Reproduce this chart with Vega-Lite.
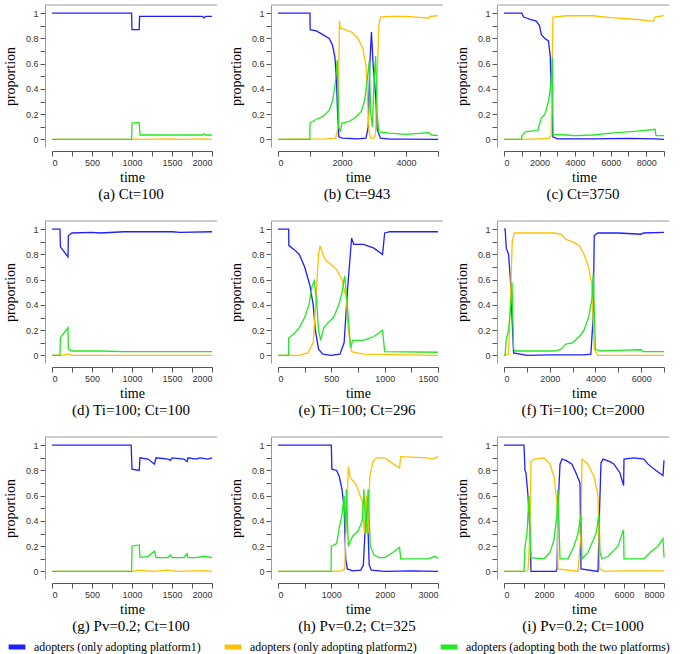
{
"$schema": "https://vega.github.io/schema/vega-lite/v6.json",
"background": "white",
"padding": {"left": 3, "top": 4, "right": 2, "bottom": 2},
"datasets": {
"a": [
{"s":"A","t":0,"v":1},{"s":"A","t":995,"v":1},{"s":"A","t":1000,"v":0.87},{"s":"A","t":1090,"v":0.87},{"s":"A","t":1095,"v":0.975},{"s":"A","t":1880,"v":0.975},{"s":"A","t":1900,"v":0.962},{"s":"A","t":1920,"v":0.975},{"s":"A","t":2000,"v":0.975},
{"s":"B","t":0,"v":0},{"s":"B","t":1000,"v":0},{"s":"B","t":1050,"v":0.005},{"s":"B","t":1100,"v":0},{"s":"B","t":1500,"v":0.004},{"s":"B","t":1600,"v":0},{"s":"B","t":1900,"v":0.004},{"s":"B","t":2000,"v":0},
{"s":"C","t":0,"v":0},{"s":"C","t":995,"v":0},{"s":"C","t":1000,"v":0.13},{"s":"C","t":1090,"v":0.135},{"s":"C","t":1100,"v":0.035},{"s":"C","t":1880,"v":0.035},{"s":"C","t":1900,"v":0.045},{"s":"C","t":1920,"v":0.035},{"s":"C","t":2000,"v":0.035}
],
"b": [
{"s":"A","t":0,"v":1},{"s":"A","t":1000,"v":1},{"s":"A","t":1005,"v":0.87},{"s":"A","t":1200,"v":0.86},{"s":"A","t":1400,"v":0.83},{"s":"A","t":1600,"v":0.8},{"s":"A","t":1700,"v":0.75},{"s":"A","t":1780,"v":0.65},{"s":"A","t":1830,"v":0.45},{"s":"A","t":1870,"v":0.15},{"s":"A","t":1900,"v":0.02},{"s":"A","t":2000,"v":0.01},{"s":"A","t":2500,"v":0.005},{"s":"A","t":2750,"v":0.01},{"s":"A","t":2820,"v":0.1},{"s":"A","t":2870,"v":0.6},{"s":"A","t":2920,"v":0.85},{"s":"A","t":2970,"v":0.6},{"s":"A","t":3050,"v":0.35},{"s":"A","t":3100,"v":0.08},{"s":"A","t":3200,"v":0.01},{"s":"A","t":3500,"v":0.003},{"s":"A","t":4000,"v":0.003},{"s":"A","t":5000,"v":0},
{"s":"B","t":0,"v":0},{"s":"B","t":1500,"v":0.005},{"s":"B","t":1800,"v":0.01},{"s":"B","t":1880,"v":0.1},{"s":"B","t":1920,"v":0.94},{"s":"B","t":1950,"v":0.88},{"s":"B","t":2100,"v":0.87},{"s":"B","t":2300,"v":0.85},{"s":"B","t":2500,"v":0.8},{"s":"B","t":2650,"v":0.72},{"s":"B","t":2750,"v":0.58},{"s":"B","t":2800,"v":0.3},{"s":"B","t":2850,"v":0.05},{"s":"B","t":2900,"v":0.01},{"s":"B","t":3000,"v":0.01},{"s":"B","t":3050,"v":0.05},{"s":"B","t":3100,"v":0.5},{"s":"B","t":3150,"v":0.9},{"s":"B","t":3200,"v":0.97},{"s":"B","t":3500,"v":0.975},{"s":"B","t":4000,"v":0.975},{"s":"B","t":4500,"v":0.965},{"s":"B","t":4700,"v":0.96},{"s":"B","t":4750,"v":0.975},{"s":"B","t":5000,"v":0.98},
{"s":"C","t":0,"v":0},{"s":"C","t":995,"v":0},{"s":"C","t":1000,"v":0.13},{"s":"C","t":1200,"v":0.16},{"s":"C","t":1400,"v":0.18},{"s":"C","t":1600,"v":0.23},{"s":"C","t":1700,"v":0.3},{"s":"C","t":1780,"v":0.42},{"s":"C","t":1850,"v":0.63},{"s":"C","t":1880,"v":0.35},{"s":"C","t":1900,"v":0.1},{"s":"C","t":1950,"v":0.06},{"s":"C","t":2000,"v":0.13},{"s":"C","t":2200,"v":0.14},{"s":"C","t":2400,"v":0.17},{"s":"C","t":2600,"v":0.22},{"s":"C","t":2700,"v":0.3},{"s":"C","t":2780,"v":0.45},{"s":"C","t":2850,"v":0.62},{"s":"C","t":2900,"v":0.2},{"s":"C","t":2950,"v":0.1},{"s":"C","t":3000,"v":0.45},{"s":"C","t":3050,"v":0.66},{"s":"C","t":3100,"v":0.2},{"s":"C","t":3150,"v":0.06},{"s":"C","t":3500,"v":0.05},{"s":"C","t":4000,"v":0.04},{"s":"C","t":4500,"v":0.05},{"s":"C","t":4700,"v":0.055},{"s":"C","t":4800,"v":0.035},{"s":"C","t":5000,"v":0.03}
],
"c": [
{"s":"A","t":0,"v":1},{"s":"A","t":1000,"v":1},{"s":"A","t":1100,"v":0.97},{"s":"A","t":1300,"v":0.96},{"s":"A","t":1500,"v":0.95},{"s":"A","t":1800,"v":0.94},{"s":"A","t":2000,"v":0.9},{"s":"A","t":2100,"v":0.83},{"s":"A","t":2300,"v":0.8},{"s":"A","t":2500,"v":0.78},{"s":"A","t":2600,"v":0.66},{"s":"A","t":2680,"v":0.3},{"s":"A","t":2750,"v":0.02},{"s":"A","t":3000,"v":0.005},{"s":"A","t":5000,"v":0.005},{"s":"A","t":7000,"v":0.008},{"s":"A","t":8500,"v":0.005},{"s":"A","t":9000,"v":0},
{"s":"B","t":0,"v":0},{"s":"B","t":1000,"v":0},{"s":"B","t":2000,"v":0.005},{"s":"B","t":2500,"v":0.008},{"s":"B","t":2650,"v":0.03},{"s":"B","t":2700,"v":0.5},{"s":"B","t":2750,"v":0.97},{"s":"B","t":3500,"v":0.98},{"s":"B","t":5000,"v":0.98},{"s":"B","t":6000,"v":0.965},{"s":"B","t":7500,"v":0.95},{"s":"B","t":8400,"v":0.935},{"s":"B","t":8500,"v":0.97},{"s":"B","t":9000,"v":0.98},
{"s":"C","t":0,"v":0},{"s":"C","t":995,"v":0},{"s":"C","t":1000,"v":0.03},{"s":"C","t":1200,"v":0.06},{"s":"C","t":1500,"v":0.065},{"s":"C","t":1900,"v":0.07},{"s":"C","t":2000,"v":0.12},{"s":"C","t":2100,"v":0.17},{"s":"C","t":2300,"v":0.2},{"s":"C","t":2500,"v":0.3},{"s":"C","t":2650,"v":0.45},{"s":"C","t":2720,"v":0.65},{"s":"C","t":2760,"v":0.04},{"s":"C","t":3500,"v":0.035},{"s":"C","t":4000,"v":0.03},{"s":"C","t":5000,"v":0.035},{"s":"C","t":6000,"v":0.05},{"s":"C","t":7500,"v":0.065},{"s":"C","t":8500,"v":0.08},{"s":"C","t":8550,"v":0.03},{"s":"C","t":9000,"v":0.03}
],
"d": [
{"s":"A","t":0,"v":1},{"s":"A","t":100,"v":1},{"s":"A","t":105,"v":0.86},{"s":"A","t":200,"v":0.78},{"s":"A","t":205,"v":0.95},{"s":"A","t":250,"v":0.97},{"s":"A","t":500,"v":0.975},{"s":"A","t":600,"v":0.97},{"s":"A","t":900,"v":0.98},{"s":"A","t":1500,"v":0.98},{"s":"A","t":1600,"v":0.975},{"s":"A","t":2000,"v":0.98},
{"s":"B","t":0,"v":0},{"s":"B","t":150,"v":0.005},{"s":"B","t":200,"v":0.012},{"s":"B","t":250,"v":0},{"s":"B","t":2000,"v":0},
{"s":"C","t":0,"v":0},{"s":"C","t":100,"v":0},{"s":"C","t":105,"v":0.14},{"s":"C","t":200,"v":0.22},{"s":"C","t":205,"v":0.05},{"s":"C","t":250,"v":0.035},{"s":"C","t":600,"v":0.035},{"s":"C","t":900,"v":0.03},{"s":"C","t":1600,"v":0.03},{"s":"C","t":2000,"v":0.03}
],
"e": [
{"s":"A","t":0,"v":1},{"s":"A","t":100,"v":1},{"s":"A","t":102,"v":0.87},{"s":"A","t":150,"v":0.84},{"s":"A","t":200,"v":0.8},{"s":"A","t":250,"v":0.7},{"s":"A","t":300,"v":0.55},{"s":"A","t":330,"v":0.4},{"s":"A","t":350,"v":0.2},{"s":"A","t":380,"v":0.05},{"s":"A","t":420,"v":0.01},{"s":"A","t":500,"v":0},{"s":"A","t":580,"v":0.01},{"s":"A","t":620,"v":0.1},{"s":"A","t":650,"v":0.5},{"s":"A","t":690,"v":0.93},{"s":"A","t":710,"v":0.88},{"s":"A","t":800,"v":0.88},{"s":"A","t":900,"v":0.85},{"s":"A","t":980,"v":0.8},{"s":"A","t":1000,"v":0.97},{"s":"A","t":1050,"v":0.98},{"s":"A","t":1500,"v":0.98},
{"s":"B","t":0,"v":0},{"s":"B","t":200,"v":0},{"s":"B","t":280,"v":0.02},{"s":"B","t":330,"v":0.1},{"s":"B","t":360,"v":0.5},{"s":"B","t":380,"v":0.8},{"s":"B","t":395,"v":0.87},{"s":"B","t":420,"v":0.8},{"s":"B","t":450,"v":0.75},{"s":"B","t":500,"v":0.72},{"s":"B","t":550,"v":0.68},{"s":"B","t":600,"v":0.6},{"s":"B","t":640,"v":0.45},{"s":"B","t":660,"v":0.2},{"s":"B","t":690,"v":0.03},{"s":"B","t":800,"v":0.01},{"s":"B","t":1500,"v":0},
{"s":"C","t":0,"v":0},{"s":"C","t":98,"v":0},{"s":"C","t":100,"v":0.14},{"s":"C","t":150,"v":0.17},{"s":"C","t":200,"v":0.22},{"s":"C","t":250,"v":0.3},{"s":"C","t":290,"v":0.4},{"s":"C","t":320,"v":0.55},{"s":"C","t":340,"v":0.59},{"s":"C","t":360,"v":0.45},{"s":"C","t":380,"v":0.2},{"s":"C","t":400,"v":0.12},{"s":"C","t":430,"v":0.22},{"s":"C","t":470,"v":0.26},{"s":"C","t":520,"v":0.3},{"s":"C","t":570,"v":0.4},{"s":"C","t":600,"v":0.5},{"s":"C","t":625,"v":0.63},{"s":"C","t":650,"v":0.4},{"s":"C","t":680,"v":0.06},{"s":"C","t":700,"v":0.12},{"s":"C","t":800,"v":0.12},{"s":"C","t":900,"v":0.15},{"s":"C","t":980,"v":0.2},{"s":"C","t":1000,"v":0.03},{"s":"C","t":1500,"v":0.025}
],
"f": [
{"s":"A","t":0,"v":1},{"s":"A","t":50,"v":1},{"s":"A","t":100,"v":0.85},{"s":"A","t":200,"v":0.8},{"s":"A","t":280,"v":0.6},{"s":"A","t":340,"v":0.35},{"s":"A","t":420,"v":0.02},{"s":"A","t":1000,"v":0},{"s":"A","t":2000,"v":0.005},{"s":"A","t":3500,"v":0.005},{"s":"A","t":3800,"v":0.01},{"s":"A","t":3900,"v":0.3},{"s":"A","t":3950,"v":0.95},{"s":"A","t":4100,"v":0.97},{"s":"A","t":5000,"v":0.97},{"s":"A","t":6000,"v":0.96},{"s":"A","t":6100,"v":0.97},{"s":"A","t":7000,"v":0.975},
{"s":"B","t":0,"v":0},{"s":"B","t":200,"v":0.01},{"s":"B","t":300,"v":0.55},{"s":"B","t":360,"v":0.9},{"s":"B","t":450,"v":0.97},{"s":"B","t":2200,"v":0.97},{"s":"B","t":2500,"v":0.96},{"s":"B","t":2700,"v":0.92},{"s":"B","t":3000,"v":0.9},{"s":"B","t":3300,"v":0.87},{"s":"B","t":3500,"v":0.8},{"s":"B","t":3700,"v":0.7},{"s":"B","t":3850,"v":0.55},{"s":"B","t":3950,"v":0.05},{"s":"B","t":4100,"v":0},{"s":"B","t":7000,"v":0},
{"s":"C","t":0,"v":0},{"s":"C","t":50,"v":0},{"s":"C","t":100,"v":0.13},{"s":"C","t":200,"v":0.2},{"s":"C","t":300,"v":0.4},{"s":"C","t":350,"v":0.58},{"s":"C","t":420,"v":0.05},{"s":"C","t":500,"v":0.035},{"s":"C","t":2200,"v":0.035},{"s":"C","t":2500,"v":0.05},{"s":"C","t":2700,"v":0.09},{"s":"C","t":3000,"v":0.1},{"s":"C","t":3300,"v":0.15},{"s":"C","t":3500,"v":0.2},{"s":"C","t":3700,"v":0.3},{"s":"C","t":3850,"v":0.45},{"s":"C","t":3900,"v":0.65},{"s":"C","t":4000,"v":0.05},{"s":"C","t":4200,"v":0.035},{"s":"C","t":5000,"v":0.04},{"s":"C","t":6000,"v":0.045},{"s":"C","t":6100,"v":0.03},{"s":"C","t":7000,"v":0.03}
],
"g": [
{"s":"A","t":0,"v":1},{"s":"A","t":990,"v":1},{"s":"A","t":1000,"v":0.81},{"s":"A","t":1090,"v":0.8},{"s":"A","t":1100,"v":0.9},{"s":"A","t":1200,"v":0.89},{"s":"A","t":1280,"v":0.85},{"s":"A","t":1300,"v":0.9},{"s":"A","t":1450,"v":0.89},{"s":"A","t":1480,"v":0.88},{"s":"A","t":1500,"v":0.9},{"s":"A","t":1650,"v":0.89},{"s":"A","t":1690,"v":0.87},{"s":"A","t":1700,"v":0.9},{"s":"A","t":1800,"v":0.89},{"s":"A","t":1850,"v":0.9},{"s":"A","t":1950,"v":0.89},{"s":"A","t":2000,"v":0.9},
{"s":"B","t":0,"v":0},{"s":"B","t":1000,"v":0},{"s":"B","t":1100,"v":0.01},{"s":"B","t":1250,"v":0},{"s":"B","t":1450,"v":0.01},{"s":"B","t":1550,"v":0},{"s":"B","t":1900,"v":0.006},{"s":"B","t":2000,"v":0},
{"s":"C","t":0,"v":0},{"s":"C","t":995,"v":0},{"s":"C","t":1000,"v":0.2},{"s":"C","t":1090,"v":0.21},{"s":"C","t":1100,"v":0.11},{"s":"C","t":1200,"v":0.12},{"s":"C","t":1280,"v":0.16},{"s":"C","t":1300,"v":0.11},{"s":"C","t":1450,"v":0.11},{"s":"C","t":1480,"v":0.13},{"s":"C","t":1500,"v":0.11},{"s":"C","t":1650,"v":0.11},{"s":"C","t":1690,"v":0.14},{"s":"C","t":1700,"v":0.11},{"s":"C","t":1800,"v":0.11},{"s":"C","t":1900,"v":0.12},{"s":"C","t":2000,"v":0.11}
],
"h": [
{"s":"A","t":0,"v":1},{"s":"A","t":1000,"v":1},{"s":"A","t":1010,"v":0.81},{"s":"A","t":1100,"v":0.8},{"s":"A","t":1150,"v":0.75},{"s":"A","t":1200,"v":0.65},{"s":"A","t":1240,"v":0.5},{"s":"A","t":1270,"v":0.1},{"s":"A","t":1300,"v":0.02},{"s":"A","t":1400,"v":0.005},{"s":"A","t":1550,"v":0.01},{"s":"A","t":1600,"v":0.05},{"s":"A","t":1630,"v":0.3},{"s":"A","t":1660,"v":0.57},{"s":"A","t":1690,"v":0.3},{"s":"A","t":1710,"v":0.05},{"s":"A","t":1750,"v":0.01},{"s":"A","t":2000,"v":0},{"s":"A","t":2500,"v":0.005},{"s":"A","t":3000,"v":0},
{"s":"B","t":0,"v":0},{"s":"B","t":1000,"v":0},{"s":"B","t":1200,"v":0.005},{"s":"B","t":1250,"v":0.02},{"s":"B","t":1280,"v":0.4},{"s":"B","t":1320,"v":0.83},{"s":"B","t":1350,"v":0.75},{"s":"B","t":1400,"v":0.72},{"s":"B","t":1450,"v":0.7},{"s":"B","t":1500,"v":0.65},{"s":"B","t":1580,"v":0.55},{"s":"B","t":1620,"v":0.3},{"s":"B","t":1660,"v":0.6},{"s":"B","t":1690,"v":0.3},{"s":"B","t":1720,"v":0.75},{"s":"B","t":1780,"v":0.87},{"s":"B","t":1850,"v":0.9},{"s":"B","t":2000,"v":0.9},{"s":"B","t":2100,"v":0.87},{"s":"B","t":2200,"v":0.84},{"s":"B","t":2280,"v":0.82},{"s":"B","t":2300,"v":0.91},{"s":"B","t":2800,"v":0.9},{"s":"B","t":2900,"v":0.89},{"s":"B","t":3000,"v":0.91},
{"s":"C","t":0,"v":0},{"s":"C","t":995,"v":0},{"s":"C","t":1000,"v":0.2},{"s":"C","t":1100,"v":0.22},{"s":"C","t":1150,"v":0.35},{"s":"C","t":1200,"v":0.45},{"s":"C","t":1240,"v":0.6},{"s":"C","t":1270,"v":0.3},{"s":"C","t":1280,"v":0.65},{"s":"C","t":1320,"v":0.2},{"s":"C","t":1400,"v":0.28},{"s":"C","t":1500,"v":0.32},{"s":"C","t":1580,"v":0.4},{"s":"C","t":1610,"v":0.65},{"s":"C","t":1650,"v":0.3},{"s":"C","t":1690,"v":0.65},{"s":"C","t":1730,"v":0.2},{"s":"C","t":1800,"v":0.13},{"s":"C","t":1900,"v":0.11},{"s":"C","t":2000,"v":0.11},{"s":"C","t":2150,"v":0.15},{"s":"C","t":2280,"v":0.19},{"s":"C","t":2300,"v":0.1},{"s":"C","t":2800,"v":0.1},{"s":"C","t":2950,"v":0.12},{"s":"C","t":3000,"v":0.1}
],
"i": [
{"s":"A","t":0,"v":1},{"s":"A","t":1000,"v":1},{"s":"A","t":1050,"v":0.8},{"s":"A","t":1100,"v":0.78},{"s":"A","t":1200,"v":0.6},{"s":"A","t":1300,"v":0.3},{"s":"A","t":1350,"v":0},{"s":"A","t":2600,"v":0},{"s":"A","t":2650,"v":0.02},{"s":"A","t":2700,"v":0.5},{"s":"A","t":2800,"v":0.85},{"s":"A","t":2900,"v":0.89},{"s":"A","t":3100,"v":0.88},{"s":"A","t":3400,"v":0.85},{"s":"A","t":3600,"v":0.78},{"s":"A","t":3800,"v":0.7},{"s":"A","t":3850,"v":0.02},{"s":"A","t":4700,"v":0},{"s":"A","t":4780,"v":0.5},{"s":"A","t":4850,"v":0.86},{"s":"A","t":4950,"v":0.89},{"s":"A","t":5300,"v":0.87},{"s":"A","t":5500,"v":0.85},{"s":"A","t":5800,"v":0.78},{"s":"A","t":5980,"v":0.68},{"s":"A","t":6000,"v":0.89},{"s":"A","t":6500,"v":0.9},{"s":"A","t":7000,"v":0.89},{"s":"A","t":7200,"v":0.85},{"s":"A","t":7600,"v":0.8},{"s":"A","t":7950,"v":0.76},{"s":"A","t":8000,"v":0.88},
{"s":"B","t":0,"v":0},{"s":"B","t":1000,"v":0},{"s":"B","t":1200,"v":0.005},{"s":"B","t":1300,"v":0.3},{"s":"B","t":1350,"v":0.87},{"s":"B","t":1500,"v":0.89},{"s":"B","t":2000,"v":0.9},{"s":"B","t":2300,"v":0.85},{"s":"B","t":2500,"v":0.75},{"s":"B","t":2650,"v":0.55},{"s":"B","t":2700,"v":0.02},{"s":"B","t":3700,"v":0},{"s":"B","t":3850,"v":0.3},{"s":"B","t":3900,"v":0.89},{"s":"B","t":4200,"v":0.85},{"s":"B","t":4500,"v":0.75},{"s":"B","t":4700,"v":0.6},{"s":"B","t":4780,"v":0.02},{"s":"B","t":5000,"v":0},{"s":"B","t":6000,"v":0.005},{"s":"B","t":8000,"v":0.005},
{"s":"C","t":0,"v":0},{"s":"C","t":1000,"v":0},{"s":"C","t":1050,"v":0.2},{"s":"C","t":1150,"v":0.3},{"s":"C","t":1250,"v":0.6},{"s":"C","t":1350,"v":0.11},{"s":"C","t":2000,"v":0.1},{"s":"C","t":2300,"v":0.15},{"s":"C","t":2500,"v":0.25},{"s":"C","t":2650,"v":0.45},{"s":"C","t":2700,"v":0.65},{"s":"C","t":2800,"v":0.1},{"s":"C","t":3200,"v":0.1},{"s":"C","t":3500,"v":0.2},{"s":"C","t":3700,"v":0.3},{"s":"C","t":3850,"v":0.45},{"s":"C","t":3900,"v":0.1},{"s":"C","t":4200,"v":0.15},{"s":"C","t":4600,"v":0.3},{"s":"C","t":4750,"v":0.45},{"s":"C","t":4800,"v":0.15},{"s":"C","t":4900,"v":0.1},{"s":"C","t":5200,"v":0.12},{"s":"C","t":5700,"v":0.2},{"s":"C","t":5980,"v":0.33},{"s":"C","t":6000,"v":0.1},{"s":"C","t":7000,"v":0.1},{"s":"C","t":7300,"v":0.15},{"s":"C","t":7700,"v":0.2},{"s":"C","t":7950,"v":0.26},{"s":"C","t":8000,"v":0.11}
]
},
"spacing": 18,
"vconcat": [
{"hconcat": [
{"width":172,"height":142,"title":"(a) Ct=100","layer":[
 {"data":{"values":[{}]},"mark":{"type":"rule","color":"#9a9a9a","strokeWidth":1},"encoding":{"y":{"datum":1.065,"type":"quantitative","scale":{"domain":[-0.06,1.065],"nice":false,"zero":false},"axis":{"title":"proportion","labelOverlap":false,"values":[0,0.1,0.2,0.3,0.4,0.5,0.6,0.7,0.8,0.9,1],"labelExpr":"round(datum.value*10)%2==0?format(datum.value,'~g'):''"}}}},
 {"data":{"name":"a"},"mark":{"type":"line","strokeWidth":1.3},"encoding":{
  "x":{"field":"t","type":"quantitative","scale":{"domain":[0,2000],"range":[7,167],"nice":false,"zero":false},"axis":{"title":"time","format":"d","labelOverlap":false,"values":[0,250,500,750,1000,1250,1500,1750,2000],"labelExpr":"datum.value%500==0?datum.label:''"}},
  "y":{"field":"v","type":"quantitative","scale":{"domain":[-0.06,1.065],"nice":false,"zero":false},"axis":{"title":"proportion","labelOverlap":false,"values":[0,0.1,0.2,0.3,0.4,0.5,0.6,0.7,0.8,0.9,1],"labelExpr":"round(datum.value*10)%2==0?format(datum.value,'~g'):''"}},
  "color":{"field":"s","type":"nominal","scale":{"domain":["A","B","C"],"range":["#1f1fff","#ffc000","#22e822"]},"legend":{"labelExpr":"datum.label=='A'?'adopters (only adopting platform1)':datum.label=='B'?'adopters (only adopting platform2)':'adopters (adopting both the two platforms)'"}}}}
]},
{"width":172,"height":142,"title":"(b) Ct=943","layer":[
 {"data":{"values":[{}]},"mark":{"type":"rule","color":"#9a9a9a","strokeWidth":1},"encoding":{"y":{"datum":1.065,"type":"quantitative","scale":{"domain":[-0.06,1.065],"nice":false,"zero":false},"axis":{"title":"proportion","labelOverlap":false,"values":[0,0.1,0.2,0.3,0.4,0.5,0.6,0.7,0.8,0.9,1],"labelExpr":"round(datum.value*10)%2==0?format(datum.value,'~g'):''"}}}},
 {"data":{"name":"b"},"mark":{"type":"line","strokeWidth":1.3},"encoding":{
  "x":{"field":"t","type":"quantitative","scale":{"domain":[0,5000],"range":[7,167],"nice":false,"zero":false},"axis":{"title":"time","format":"d","labelOverlap":false,"values":[0,1000,2000,3000,4000,5000],"labelExpr":"datum.value%2000==0?datum.label:''"}},
  "y":{"field":"v","type":"quantitative","scale":{"domain":[-0.06,1.065],"nice":false,"zero":false},"axis":{"title":"proportion","labelOverlap":false,"values":[0,0.1,0.2,0.3,0.4,0.5,0.6,0.7,0.8,0.9,1],"labelExpr":"round(datum.value*10)%2==0?format(datum.value,'~g'):''"}},
  "color":{"field":"s","type":"nominal","scale":{"domain":["A","B","C"],"range":["#1f1fff","#ffc000","#22e822"]},"legend":{"labelExpr":"datum.label=='A'?'adopters (only adopting platform1)':datum.label=='B'?'adopters (only adopting platform2)':'adopters (adopting both the two platforms)'"}}}}
]},
{"width":172,"height":142,"title":"(c) Ct=3750","layer":[
 {"data":{"values":[{}]},"mark":{"type":"rule","color":"#9a9a9a","strokeWidth":1},"encoding":{"y":{"datum":1.065,"type":"quantitative","scale":{"domain":[-0.06,1.065],"nice":false,"zero":false},"axis":{"title":"proportion","labelOverlap":false,"values":[0,0.1,0.2,0.3,0.4,0.5,0.6,0.7,0.8,0.9,1],"labelExpr":"round(datum.value*10)%2==0?format(datum.value,'~g'):''"}}}},
 {"data":{"name":"c"},"mark":{"type":"line","strokeWidth":1.3},"encoding":{
  "x":{"field":"t","type":"quantitative","scale":{"domain":[0,9000],"range":[7,167],"nice":false,"zero":false},"axis":{"title":"time","format":"d","labelOverlap":false,"values":[0,1000,2000,3000,4000,5000,6000,7000,8000,9000],"labelExpr":"datum.value%2000==0?datum.label:''"}},
  "y":{"field":"v","type":"quantitative","scale":{"domain":[-0.06,1.065],"nice":false,"zero":false},"axis":{"title":"proportion","labelOverlap":false,"values":[0,0.1,0.2,0.3,0.4,0.5,0.6,0.7,0.8,0.9,1],"labelExpr":"round(datum.value*10)%2==0?format(datum.value,'~g'):''"}},
  "color":{"field":"s","type":"nominal","scale":{"domain":["A","B","C"],"range":["#1f1fff","#ffc000","#22e822"]},"legend":{"labelExpr":"datum.label=='A'?'adopters (only adopting platform1)':datum.label=='B'?'adopters (only adopting platform2)':'adopters (adopting both the two platforms)'"}}}}
]}
], "spacing": 54, "bounds": "flush"},
{"hconcat": [
{"width":172,"height":142,"title":"(d) Ti=100; Ct=100","layer":[
 {"data":{"values":[{}]},"mark":{"type":"rule","color":"#9a9a9a","strokeWidth":1},"encoding":{"y":{"datum":1.065,"type":"quantitative","scale":{"domain":[-0.06,1.065],"nice":false,"zero":false},"axis":{"title":"proportion","labelOverlap":false,"values":[0,0.1,0.2,0.3,0.4,0.5,0.6,0.7,0.8,0.9,1],"labelExpr":"round(datum.value*10)%2==0?format(datum.value,'~g'):''"}}}},
 {"data":{"name":"d"},"mark":{"type":"line","strokeWidth":1.3},"encoding":{
  "x":{"field":"t","type":"quantitative","scale":{"domain":[0,2000],"range":[7,167],"nice":false,"zero":false},"axis":{"title":"time","format":"d","labelOverlap":false,"values":[0,250,500,750,1000,1250,1500,1750,2000],"labelExpr":"datum.value%500==0?datum.label:''"}},
  "y":{"field":"v","type":"quantitative","scale":{"domain":[-0.06,1.065],"nice":false,"zero":false},"axis":{"title":"proportion","labelOverlap":false,"values":[0,0.1,0.2,0.3,0.4,0.5,0.6,0.7,0.8,0.9,1],"labelExpr":"round(datum.value*10)%2==0?format(datum.value,'~g'):''"}},
  "color":{"field":"s","type":"nominal","scale":{"domain":["A","B","C"],"range":["#1f1fff","#ffc000","#22e822"]},"legend":{"labelExpr":"datum.label=='A'?'adopters (only adopting platform1)':datum.label=='B'?'adopters (only adopting platform2)':'adopters (adopting both the two platforms)'"}}}}
]},
{"width":172,"height":142,"title":"(e) Ti=100; Ct=296","layer":[
 {"data":{"values":[{}]},"mark":{"type":"rule","color":"#9a9a9a","strokeWidth":1},"encoding":{"y":{"datum":1.065,"type":"quantitative","scale":{"domain":[-0.06,1.065],"nice":false,"zero":false},"axis":{"title":"proportion","labelOverlap":false,"values":[0,0.1,0.2,0.3,0.4,0.5,0.6,0.7,0.8,0.9,1],"labelExpr":"round(datum.value*10)%2==0?format(datum.value,'~g'):''"}}}},
 {"data":{"name":"e"},"mark":{"type":"line","strokeWidth":1.3},"encoding":{
  "x":{"field":"t","type":"quantitative","scale":{"domain":[0,1500],"range":[7,167],"nice":false,"zero":false},"axis":{"title":"time","format":"d","labelOverlap":false,"values":[0,250,500,750,1000,1250,1500],"labelExpr":"datum.value%500==0?datum.label:''"}},
  "y":{"field":"v","type":"quantitative","scale":{"domain":[-0.06,1.065],"nice":false,"zero":false},"axis":{"title":"proportion","labelOverlap":false,"values":[0,0.1,0.2,0.3,0.4,0.5,0.6,0.7,0.8,0.9,1],"labelExpr":"round(datum.value*10)%2==0?format(datum.value,'~g'):''"}},
  "color":{"field":"s","type":"nominal","scale":{"domain":["A","B","C"],"range":["#1f1fff","#ffc000","#22e822"]},"legend":{"labelExpr":"datum.label=='A'?'adopters (only adopting platform1)':datum.label=='B'?'adopters (only adopting platform2)':'adopters (adopting both the two platforms)'"}}}}
]},
{"width":172,"height":142,"title":"(f) Ti=100; Ct=2000","layer":[
 {"data":{"values":[{}]},"mark":{"type":"rule","color":"#9a9a9a","strokeWidth":1},"encoding":{"y":{"datum":1.065,"type":"quantitative","scale":{"domain":[-0.06,1.065],"nice":false,"zero":false},"axis":{"title":"proportion","labelOverlap":false,"values":[0,0.1,0.2,0.3,0.4,0.5,0.6,0.7,0.8,0.9,1],"labelExpr":"round(datum.value*10)%2==0?format(datum.value,'~g'):''"}}}},
 {"data":{"name":"f"},"mark":{"type":"line","strokeWidth":1.3},"encoding":{
  "x":{"field":"t","type":"quantitative","scale":{"domain":[0,7000],"range":[7,167],"nice":false,"zero":false},"axis":{"title":"time","format":"d","labelOverlap":false,"values":[0,1000,2000,3000,4000,5000,6000,7000],"labelExpr":"datum.value%2000==0?datum.label:''"}},
  "y":{"field":"v","type":"quantitative","scale":{"domain":[-0.06,1.065],"nice":false,"zero":false},"axis":{"title":"proportion","labelOverlap":false,"values":[0,0.1,0.2,0.3,0.4,0.5,0.6,0.7,0.8,0.9,1],"labelExpr":"round(datum.value*10)%2==0?format(datum.value,'~g'):''"}},
  "color":{"field":"s","type":"nominal","scale":{"domain":["A","B","C"],"range":["#1f1fff","#ffc000","#22e822"]},"legend":{"labelExpr":"datum.label=='A'?'adopters (only adopting platform1)':datum.label=='B'?'adopters (only adopting platform2)':'adopters (adopting both the two platforms)'"}}}}
]}
], "spacing": 54, "bounds": "flush"},
{"hconcat": [
{"width":172,"height":142,"title":"(g) Pv=0.2; Ct=100","layer":[
 {"data":{"values":[{}]},"mark":{"type":"rule","color":"#9a9a9a","strokeWidth":1},"encoding":{"y":{"datum":1.065,"type":"quantitative","scale":{"domain":[-0.06,1.065],"nice":false,"zero":false},"axis":{"title":"proportion","labelOverlap":false,"values":[0,0.1,0.2,0.3,0.4,0.5,0.6,0.7,0.8,0.9,1],"labelExpr":"round(datum.value*10)%2==0?format(datum.value,'~g'):''"}}}},
 {"data":{"name":"g"},"mark":{"type":"line","strokeWidth":1.3},"encoding":{
  "x":{"field":"t","type":"quantitative","scale":{"domain":[0,2000],"range":[7,167],"nice":false,"zero":false},"axis":{"title":"time","format":"d","labelOverlap":false,"values":[0,250,500,750,1000,1250,1500,1750,2000],"labelExpr":"datum.value%500==0?datum.label:''"}},
  "y":{"field":"v","type":"quantitative","scale":{"domain":[-0.06,1.065],"nice":false,"zero":false},"axis":{"title":"proportion","labelOverlap":false,"values":[0,0.1,0.2,0.3,0.4,0.5,0.6,0.7,0.8,0.9,1],"labelExpr":"round(datum.value*10)%2==0?format(datum.value,'~g'):''"}},
  "color":{"field":"s","type":"nominal","scale":{"domain":["A","B","C"],"range":["#1f1fff","#ffc000","#22e822"]},"legend":{"labelExpr":"datum.label=='A'?'adopters (only adopting platform1)':datum.label=='B'?'adopters (only adopting platform2)':'adopters (adopting both the two platforms)'"}}}}
]},
{"width":172,"height":142,"title":"(h) Pv=0.2; Ct=325","layer":[
 {"data":{"values":[{}]},"mark":{"type":"rule","color":"#9a9a9a","strokeWidth":1},"encoding":{"y":{"datum":1.065,"type":"quantitative","scale":{"domain":[-0.06,1.065],"nice":false,"zero":false},"axis":{"title":"proportion","labelOverlap":false,"values":[0,0.1,0.2,0.3,0.4,0.5,0.6,0.7,0.8,0.9,1],"labelExpr":"round(datum.value*10)%2==0?format(datum.value,'~g'):''"}}}},
 {"data":{"name":"h"},"mark":{"type":"line","strokeWidth":1.3},"encoding":{
  "x":{"field":"t","type":"quantitative","scale":{"domain":[0,3000],"range":[7,167],"nice":false,"zero":false},"axis":{"title":"time","format":"d","labelOverlap":false,"values":[0,500,1000,1500,2000,2500,3000],"labelExpr":"datum.value%1000==0?datum.label:''"}},
  "y":{"field":"v","type":"quantitative","scale":{"domain":[-0.06,1.065],"nice":false,"zero":false},"axis":{"title":"proportion","labelOverlap":false,"values":[0,0.1,0.2,0.3,0.4,0.5,0.6,0.7,0.8,0.9,1],"labelExpr":"round(datum.value*10)%2==0?format(datum.value,'~g'):''"}},
  "color":{"field":"s","type":"nominal","scale":{"domain":["A","B","C"],"range":["#1f1fff","#ffc000","#22e822"]},"legend":{"labelExpr":"datum.label=='A'?'adopters (only adopting platform1)':datum.label=='B'?'adopters (only adopting platform2)':'adopters (adopting both the two platforms)'"}}}}
]},
{"width":172,"height":142,"title":"(i) Pv=0.2; Ct=1000","layer":[
 {"data":{"values":[{}]},"mark":{"type":"rule","color":"#9a9a9a","strokeWidth":1},"encoding":{"y":{"datum":1.065,"type":"quantitative","scale":{"domain":[-0.06,1.065],"nice":false,"zero":false},"axis":{"title":"proportion","labelOverlap":false,"values":[0,0.1,0.2,0.3,0.4,0.5,0.6,0.7,0.8,0.9,1],"labelExpr":"round(datum.value*10)%2==0?format(datum.value,'~g'):''"}}}},
 {"data":{"name":"i"},"mark":{"type":"line","strokeWidth":1.3},"encoding":{
  "x":{"field":"t","type":"quantitative","scale":{"domain":[0,8000],"range":[7,167],"nice":false,"zero":false},"axis":{"title":"time","format":"d","labelOverlap":false,"values":[0,1000,2000,3000,4000,5000,6000,7000,8000],"labelExpr":"datum.value%2000==0?datum.label:''"}},
  "y":{"field":"v","type":"quantitative","scale":{"domain":[-0.06,1.065],"nice":false,"zero":false},"axis":{"title":"proportion","labelOverlap":false,"values":[0,0.1,0.2,0.3,0.4,0.5,0.6,0.7,0.8,0.9,1],"labelExpr":"round(datum.value*10)%2==0?format(datum.value,'~g'):''"}},
  "color":{"field":"s","type":"nominal","scale":{"domain":["A","B","C"],"range":["#1f1fff","#ffc000","#22e822"]},"legend":{"labelExpr":"datum.label=='A'?'adopters (only adopting platform1)':datum.label=='B'?'adopters (only adopting platform2)':'adopters (adopting both the two platforms)'"}}}}
]}
], "spacing": 54, "bounds": "flush"}
],
"config": {
 "view": {"stroke": null},
 "font": "Liberation Serif",
 "axis": {"grid": false, "labelOverlap": false, "labelFont": "Liberation Sans", "labelFontSize": 9, "labelColor": "#333", "titleFont": "Liberation Serif", "titleFontSize": 14, "titleFontWeight": "normal", "titleColor": "#000", "domainColor": "#999", "tickColor": "#555", "tickSize": 5},
 "axisX": {"offset": 4, "labelPadding": 2, "titlePadding": 3, "domainColor": "#555", "titleFontWeight": "normal"},
 "axisY": {"labelPadding": 2, "titlePadding": 8, "titleFontWeight": "normal"},
 "title": {"orient": "bottom", "font": "Liberation Serif", "fontSize": 15, "fontWeight": "normal", "color": "#000", "offset": 3, "anchor": "middle"},
 "legend": {"orient": "none", "legendX": -39, "legendY": 631, "direction": "horizontal", "title": null, "labelFont": "Liberation Serif", "labelFontSize": 11.9, "labelColor": "#000", "labelLimit": 400, "symbolType": "stroke", "symbolStrokeWidth": 5, "symbolSize": 280, "columnPadding": 13, "labelOffset": 6}
}
}
